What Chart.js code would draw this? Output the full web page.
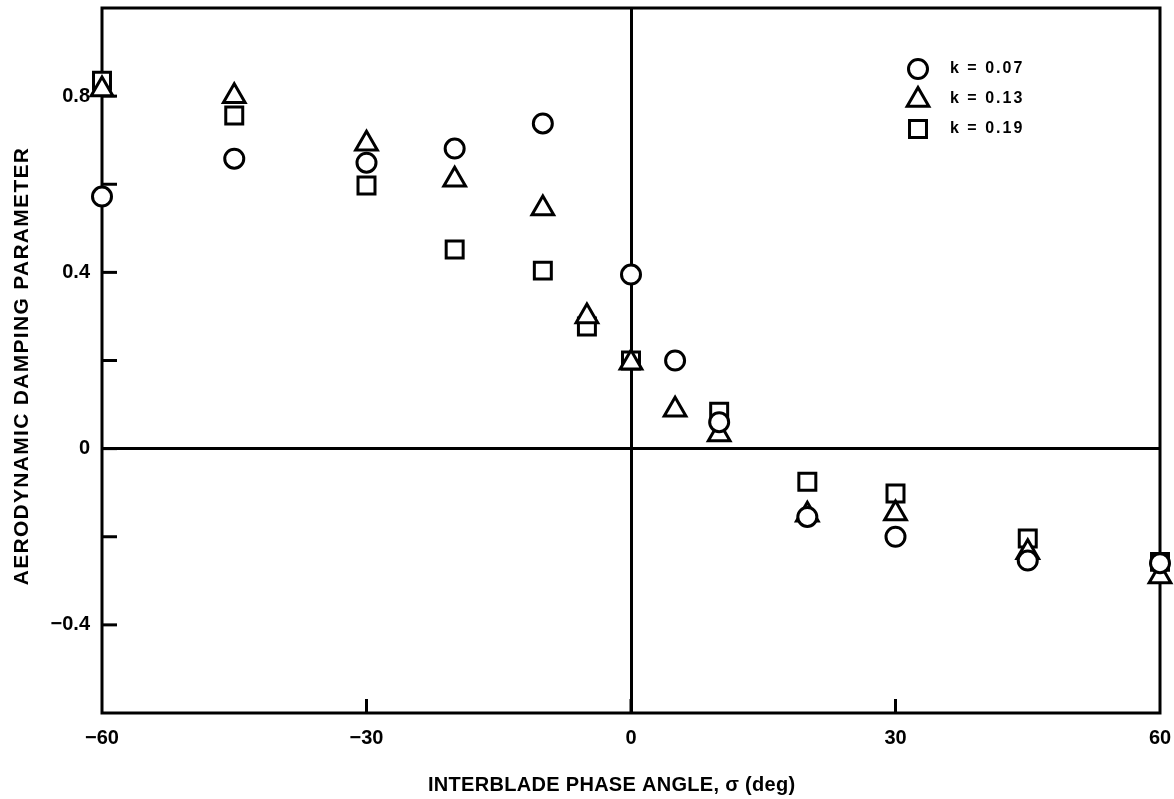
<!DOCTYPE html>
<html>
<head>
<meta charset="utf-8">
<script src="https://cdn.jsdelivr.net/npm/chart.js@4.4.1/dist/chart.umd.min.js"></script>
<style>
html,body{margin:0;padding:0;background:#ffffff;}
canvas{display:block;}
</style>
</head>
<body>
<canvas id="c" width="1174" height="799"></canvas>
<script>
// ---- data ----
const seriesLabels = ['k = 0.07', 'k = 0.13', 'k = 0.19'];
const seriesStyles = ['circle', 'triangle', 'rect'];

const phaseK007 = [-60, -45, -30, -20, -10, 0, 5, 10, 20, 30, 45, 60];
const dampK007  = [0.572, 0.658, 0.649, 0.681, 0.738, 0.395, 0.20, 0.06, -0.155, -0.20, -0.254, -0.26];

const phaseK013 = [-60, -45, -30, -20, -10, -5, 0, 5, 10, 20, 30, 45, 60];
const dampK013  = [0.815, 0.80, 0.692, 0.61, 0.545, 0.30, 0.195, 0.088, 0.032, -0.15, -0.147, -0.235, -0.29];

const phaseK019 = [-60, -45, -30, -20, -10, -5, 0, 10, 20, 30, 45, 60];
const dampK019  = [0.835, 0.756, 0.597, 0.452, 0.404, 0.277, 0.20, 0.084, -0.075, -0.102, -0.204, -0.257];

const xTickValues = [-60, -30, 0, 30, 60];
const xTickTexts  = ['\u221260', '\u221230', '0', '30', '60'];
const yTickValues = [-0.4, 0, 0.4, 0.8];
const yTickTexts  = ['\u22120.4', '0', '0.4', '0.8'];

const xAxisTitle = 'INTERBLADE PHASE ANGLE, \u03C3 (deg)';
const yAxisTitle = 'AERODYNAMIC DAMPING PARAMETER';

const FONT = '"Liberation Sans", Arial, Helvetica, sans-serif';

function toPoints(xs, ys) { return xs.map((x, i) => ({x: x, y: ys[i]})); }

const radii = {circle: 9.5, triangle: 12.5, rect: 12};

const datasets = [
  {label: seriesLabels[0], data: toPoints(phaseK007, dampK007), pointStyle: seriesStyles[0]},
  {label: seriesLabels[1], data: toPoints(phaseK013, dampK013), pointStyle: seriesStyles[1]},
  {label: seriesLabels[2], data: toPoints(phaseK019, dampK019), pointStyle: seriesStyles[2]}
].map(d => Object.assign(d, {
  pointRadius: radii[d.pointStyle],
  pointHoverRadius: radii[d.pointStyle],
  pointBorderWidth: 3,
  pointBackgroundColor: '#ffffff',
  pointBorderColor: '#000000',
  showLine: false,
  clip: false
}));

// frame + inward tick marks (drawn before the markers so markers cover them)
const framePlugin = {
  id: 'frame',
  beforeDatasetsDraw(chart) {
    const {ctx, chartArea: a, scales} = chart;
    ctx.save();
    ctx.strokeStyle = '#000';
    ctx.lineWidth = 3;
    ctx.lineCap = 'square';
    ctx.strokeRect(a.left, a.top, a.right - a.left, a.bottom - a.top);
    ctx.lineCap = 'butt';
    scales.y.ticks.forEach(t => {
      if (t.value <= scales.y.min + 1e-9 || t.value >= scales.y.max - 1e-9) return;
      const py = scales.y.getPixelForValue(t.value);
      ctx.beginPath(); ctx.moveTo(a.left, py); ctx.lineTo(a.left + 15, py); ctx.stroke();
    });
    scales.x.ticks.forEach(t => {
      if (t.value <= scales.x.min || t.value >= scales.x.max) return;
      const px = scales.x.getPixelForValue(t.value);
      ctx.beginPath(); ctx.moveTo(px, a.bottom); ctx.lineTo(px, a.bottom - 14); ctx.stroke();
    });
    ctx.restore();
  }
};

// axis titles and legend
const annotPlugin = {
  id: 'annot',
  afterDraw(chart) {
    const {ctx} = chart;
    ctx.save();
    ctx.fillStyle = '#000';
    // x title
    ctx.font = 'bold 20px ' + FONT;
    ctx.letterSpacing = '0.3px';
    ctx.textAlign = 'left';
    ctx.textBaseline = 'middle';
    ctx.fillText(xAxisTitle, 428, 785);
    // y title
    ctx.save();
    ctx.translate(22, 366);
    ctx.rotate(-Math.PI / 2);
    ctx.font = 'bold 21px ' + FONT;
    ctx.letterSpacing = '1.3px';
    ctx.textAlign = 'center';
    ctx.fillText(yAxisTitle, 0, 0);
    ctx.restore();
    // legend
    const rows = [69, 99, 129];
    const markerY = [69, 100, 129];
    ctx.font = 'bold 16px ' + FONT;
    ctx.letterSpacing = '2px';
    ctx.textAlign = 'left';
    ctx.textBaseline = 'middle';
    chart.data.datasets.forEach((ds, i) => {
      ctx.save();
      ctx.strokeStyle = '#000';
      ctx.fillStyle = '#fff';
      ctx.lineWidth = 3;
      Chart.helpers.drawPoint(ctx, {pointStyle: ds.pointStyle, radius: ds.pointRadius, borderWidth: 3, rotation: 0}, 918, markerY[i]);
      ctx.restore();
      ctx.fillStyle = '#000';
      ctx.fillText(ds.label, 950, rows[i]);
    });
    ctx.restore();
  }
};

function findText(vals, texts, v) {
  for (let i = 0; i < vals.length; i++) if (Math.abs(vals[i] - v) < 1e-6) return texts[i];
  return '';
}

new Chart(document.getElementById('c'), {
  type: 'scatter',
  data: {datasets: datasets},
  options: {
    responsive: false,
    animation: false,
    devicePixelRatio: 1,
    layout: {padding: {left: 0, right: 14, top: 8, bottom: 0}, autoPadding: false},
    plugins: {legend: {display: false}, tooltip: {enabled: false}},
    scales: {
      x: {
        type: 'linear', position: 'bottom', min: -60, max: 60,
        afterFit(s) { s.height = 86; s.paddingLeft = 0; s.paddingRight = 0; },
        border: {display: false},
        grid: {
          drawTicks: false,
          lineWidth: 3,
          color: c => (c.tick && Math.abs(c.tick.value) < 1e-9) ? '#000' : 'rgba(0,0,0,0)'
        },
        ticks: {
          stepSize: 30, padding: 13, maxRotation: 0, autoSkip: false,
          color: '#000', font: {family: FONT, size: 20, weight: 'bold'},
          callback: v => findText(xTickValues, xTickTexts, v)
        }
      },
      y: {
        type: 'linear', position: 'left', min: -0.6, max: 1.0,
        afterFit(s) { s.width = 102; s.paddingTop = 0; s.paddingBottom = 0; },
        border: {display: false},
        grid: {
          drawTicks: false,
          lineWidth: 3,
          color: c => (c.tick && Math.abs(c.tick.value) < 1e-9) ? '#000' : 'rgba(0,0,0,0)'
        },
        ticks: {
          stepSize: 0.2, padding: 12, autoSkip: false,
          color: '#000', font: {family: FONT, size: 20, weight: 'bold'},
          callback: v => findText(yTickValues, yTickTexts, v)
        }
      }
    }
  },
  plugins: [framePlugin, annotPlugin]
});
</script>
</body>
</html>
